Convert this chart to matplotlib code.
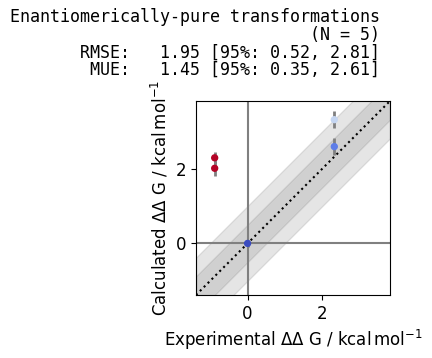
import numpy as np
import matplotlib
matplotlib.use("Agg")
import matplotlib.pyplot as plt

# data
x_exp = np.array([-0.88, -0.88, 0.0, 2.32, 2.32])
y_calc = np.array([2.29, 2.01, 0.0, 3.31, 2.59])
y_err = np.array([0.16, 0.20, 0.10, 0.22, 0.22])

title = "Enantiomerically-pure transformations"
stat_names = ["RMSE", "MUE"]
stat_vals = [1.95, 1.45]
stat_low = [0.52, 0.35]
stat_high = [2.81, 2.61]

plt.rcParams["xtick.labelsize"] = 12
plt.rcParams["ytick.labelsize"] = 12
plt.rcParams["font.size"] = 12

fig = plt.figure(figsize=(4.32, 3.58), dpi=100)
ax = fig.add_axes([196 / 432, 63 / 358, 194 / 432, 194 / 358])

quantity = r"$\Delta \Delta$ G"
units = r"$\mathrm{kcal\,mol^{-1}}$"
plt.xlabel(f"Experimental {quantity} / {units}")
plt.ylabel(f"Calculated {quantity} / {units}")

ax_min = min(x_exp.min(), y_calc.min()) - 0.5
ax_max = max(x_exp.max(), y_calc.max()) + 0.5
scale = [ax_min, ax_max]
plt.xlim(scale)
plt.ylim(scale)

# origin lines
plt.plot([0, 0], scale, "gray")
plt.plot(scale, [0, 0], "gray")

# x=y line and guide bands
plt.plot(scale, scale, "k:")
small_dist = 0.5
plt.fill_between(scale, [ax_min - small_dist, ax_max - small_dist],
                 [ax_min + small_dist, ax_max + small_dist], color="grey", alpha=0.2)
plt.fill_between(scale, [ax_min - 2 * small_dist, ax_max - 2 * small_dist],
                 [ax_min + 2 * small_dist, ax_max + 2 * small_dist], color="grey", alpha=0.2)

# points coloured by absolute error (2.372 kcal/mol = 4 RT)
cm = plt.get_cmap("coolwarm")
colors = cm(np.abs(x_exp - y_calc) / 2.372)
plt.errorbar(x_exp, y_calc, yerr=y_err, color="gray", linewidth=0.0, elinewidth=2.0, zorder=1)
plt.scatter(x_exp, y_calc, color=colors, s=18, marker="o", zorder=2)

stats_string = ""
for name, v, lo, hi in zip(stat_names, stat_vals, stat_low, stat_high):
    stats_string += f"{name}:   {v:.2f} [95%: {lo:.2f}, {hi:.2f}] " + "\n"
long_title = f"{title} \n (N = {len(x_exp)}) \n {stats_string}"
plt.title(long_title, fontsize=12, loc="right", horizontalalignment="right",
          family="monospace", linespacing=0.97)

plt.savefig("out.png", dpi=100)
